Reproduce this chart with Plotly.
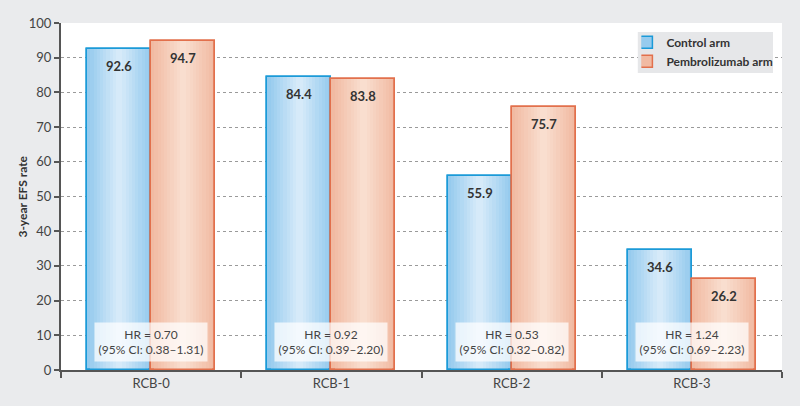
import plotly.graph_objects as go

# Data.
categories = ["RCB-0", "RCB-1", "RCB-2", "RCB-3"]
control_arm = [92.6, 84.4, 55.9, 34.6]
pembrolizumab_arm = [94.7, 83.8, 75.7, 26.2]
hazard_ratios = ["0.70", "0.92", "0.53", "1.24"]
ci_ranges = ["0.38–1.31", "0.39–2.20", "0.32–0.82", "0.69–2.23"]
y_ticks = [0, 10, 20, 30, 40, 50, 60, 70, 80, 90, 100]

FONT = "Lato"
BG = "#eaebed"
BAR_W = 0.355  # one bar, in category units
N_LAYERS = 10


def mix(c1, c2, t):
    return "rgb({},{},{})".format(*[round(a + (b - a) * t) for a, b in zip(c1, c2)])


series = [
    # name, values, side, edge colour, centre colour, outline
    ("Control arm", control_arm, -1, (150, 203, 238), (214, 234, 249), "#1b9ad8"),
    ("Pembrolizumab arm", pembrolizumab_arm, 1, (241, 186, 162), (249, 222, 207), "#e2704c"),
]

fig = go.Figure()

for name, values, side, edge, centre, outline in series:
    mid = side * BAR_W / 2
    # Stepped horizontal gradient: narrower, lighter bars stacked on top.
    for i in range(N_LAYERS):
        w = BAR_W * (1 - i / N_LAYERS)
        fig.add_trace(go.Bar(
            x=categories,
            y=values,
            width=w,
            offset=mid - w / 2,
            marker=dict(color=mix(edge, centre, i / (N_LAYERS - 1)),
                        line=dict(color=outline, width=1.5) if i == 0 else dict(width=0)),
            name=name,
            showlegend=(i == 0),
            hoverinfo="skip",
        ))
    # Outline on top so the inner layers do not hide it.
    fig.add_trace(go.Bar(
        x=categories,
        y=values,
        width=BAR_W,
        offset=mid - BAR_W / 2,
        marker=dict(color="rgba(0,0,0,0)", line=dict(color=outline, width=1.5)),
        showlegend=False,
        name=name,
    ))
    # Value labels just under the top of each bar.
    for k, v in enumerate(values):
        fig.add_annotation(
            x=k + mid, y=v, xref="x", yref="y",
            text="<b>{}</b>".format(v),
            showarrow=False, yanchor="top", yshift=-7,
            font=dict(family=FONT, size=13, color="#333333"),
        )

# Hazard ratio boxes.
for k, (hr, ci) in enumerate(zip(hazard_ratios, ci_ranges)):
    fig.add_annotation(
        x=k, y=8, xref="x", yref="y",
        text="HR = {}<br>(95% CI: {})".format(hr, ci),
        showarrow=False, yanchor="middle",
        width=110, height=36,
        bgcolor="rgba(255,255,255,0.72)",
        font=dict(family=FONT, size=12, color="#444444"),
    )

# Y axis title, placed by hand so it sits where the original has it.
fig.add_annotation(
    x=-0.054, y=0.5, xref="paper", yref="paper",
    text="<b>3-year EFS rate</b>", textangle=-90,
    showarrow=False, xanchor="center", yanchor="middle",
    font=dict(family=FONT, size=12, color="#333333"),
)

# Legend background panel (the legend itself is drawn transparent on top).
fig.add_shape(
    type="rect", xref="paper", yref="paper",
    x0=0.800, x1=0.9875, y0=0.856, y1=0.974,
    fillcolor="#e6e7e9", line=dict(width=0), layer="above",
)

fig.update_layout(
    width=800,
    height=406,
    barmode="overlay",
    bargap=0,
    paper_bgcolor=BG,
    plot_bgcolor="white",
    margin=dict(l=61, r=18, t=23, b=36),
    font=dict(family=FONT, size=13, color="#444444"),
    legend=dict(
        x=0.805, y=0.986, xanchor="left", yanchor="top",
        bgcolor="rgba(0,0,0,0)",
        font=dict(family=FONT, size=12, color="#333333", weight="bold"),
        itemwidth=30, tracegroupgap=0, indentation=-15,
    ),
)

fig.update_xaxes(
    type="category",
    range=[-0.5, 3.5],
    tickson="boundaries",
    ticks="outside", ticklen=6, tickwidth=2, tickcolor="#555555",
    showline=True, linecolor="#555555", linewidth=2,
    showgrid=False,
    automargin=False,
    tickfont=dict(size=13, color="#444444"),
)

fig.update_yaxes(
    range=[0, 100],
    tickvals=y_ticks,
    ticks="outside", ticklen=5, tickwidth=2, tickcolor="#555555",
    showline=True, linecolor="#555555", linewidth=2,
    showgrid=True, gridcolor="#9a9a9a", gridwidth=1, griddash="dot",
    zeroline=False,
    automargin=False,
    tickfont=dict(size=13, color="#444444"),
)

# Drop the browser's default body margin so the figure sits at the page corner.
fig.write_html(
    "out.html",
    config={"displayModeBar": False},
    post_script="document.body.style.margin='0';document.body.style.background='{}';".format(BG),
)
